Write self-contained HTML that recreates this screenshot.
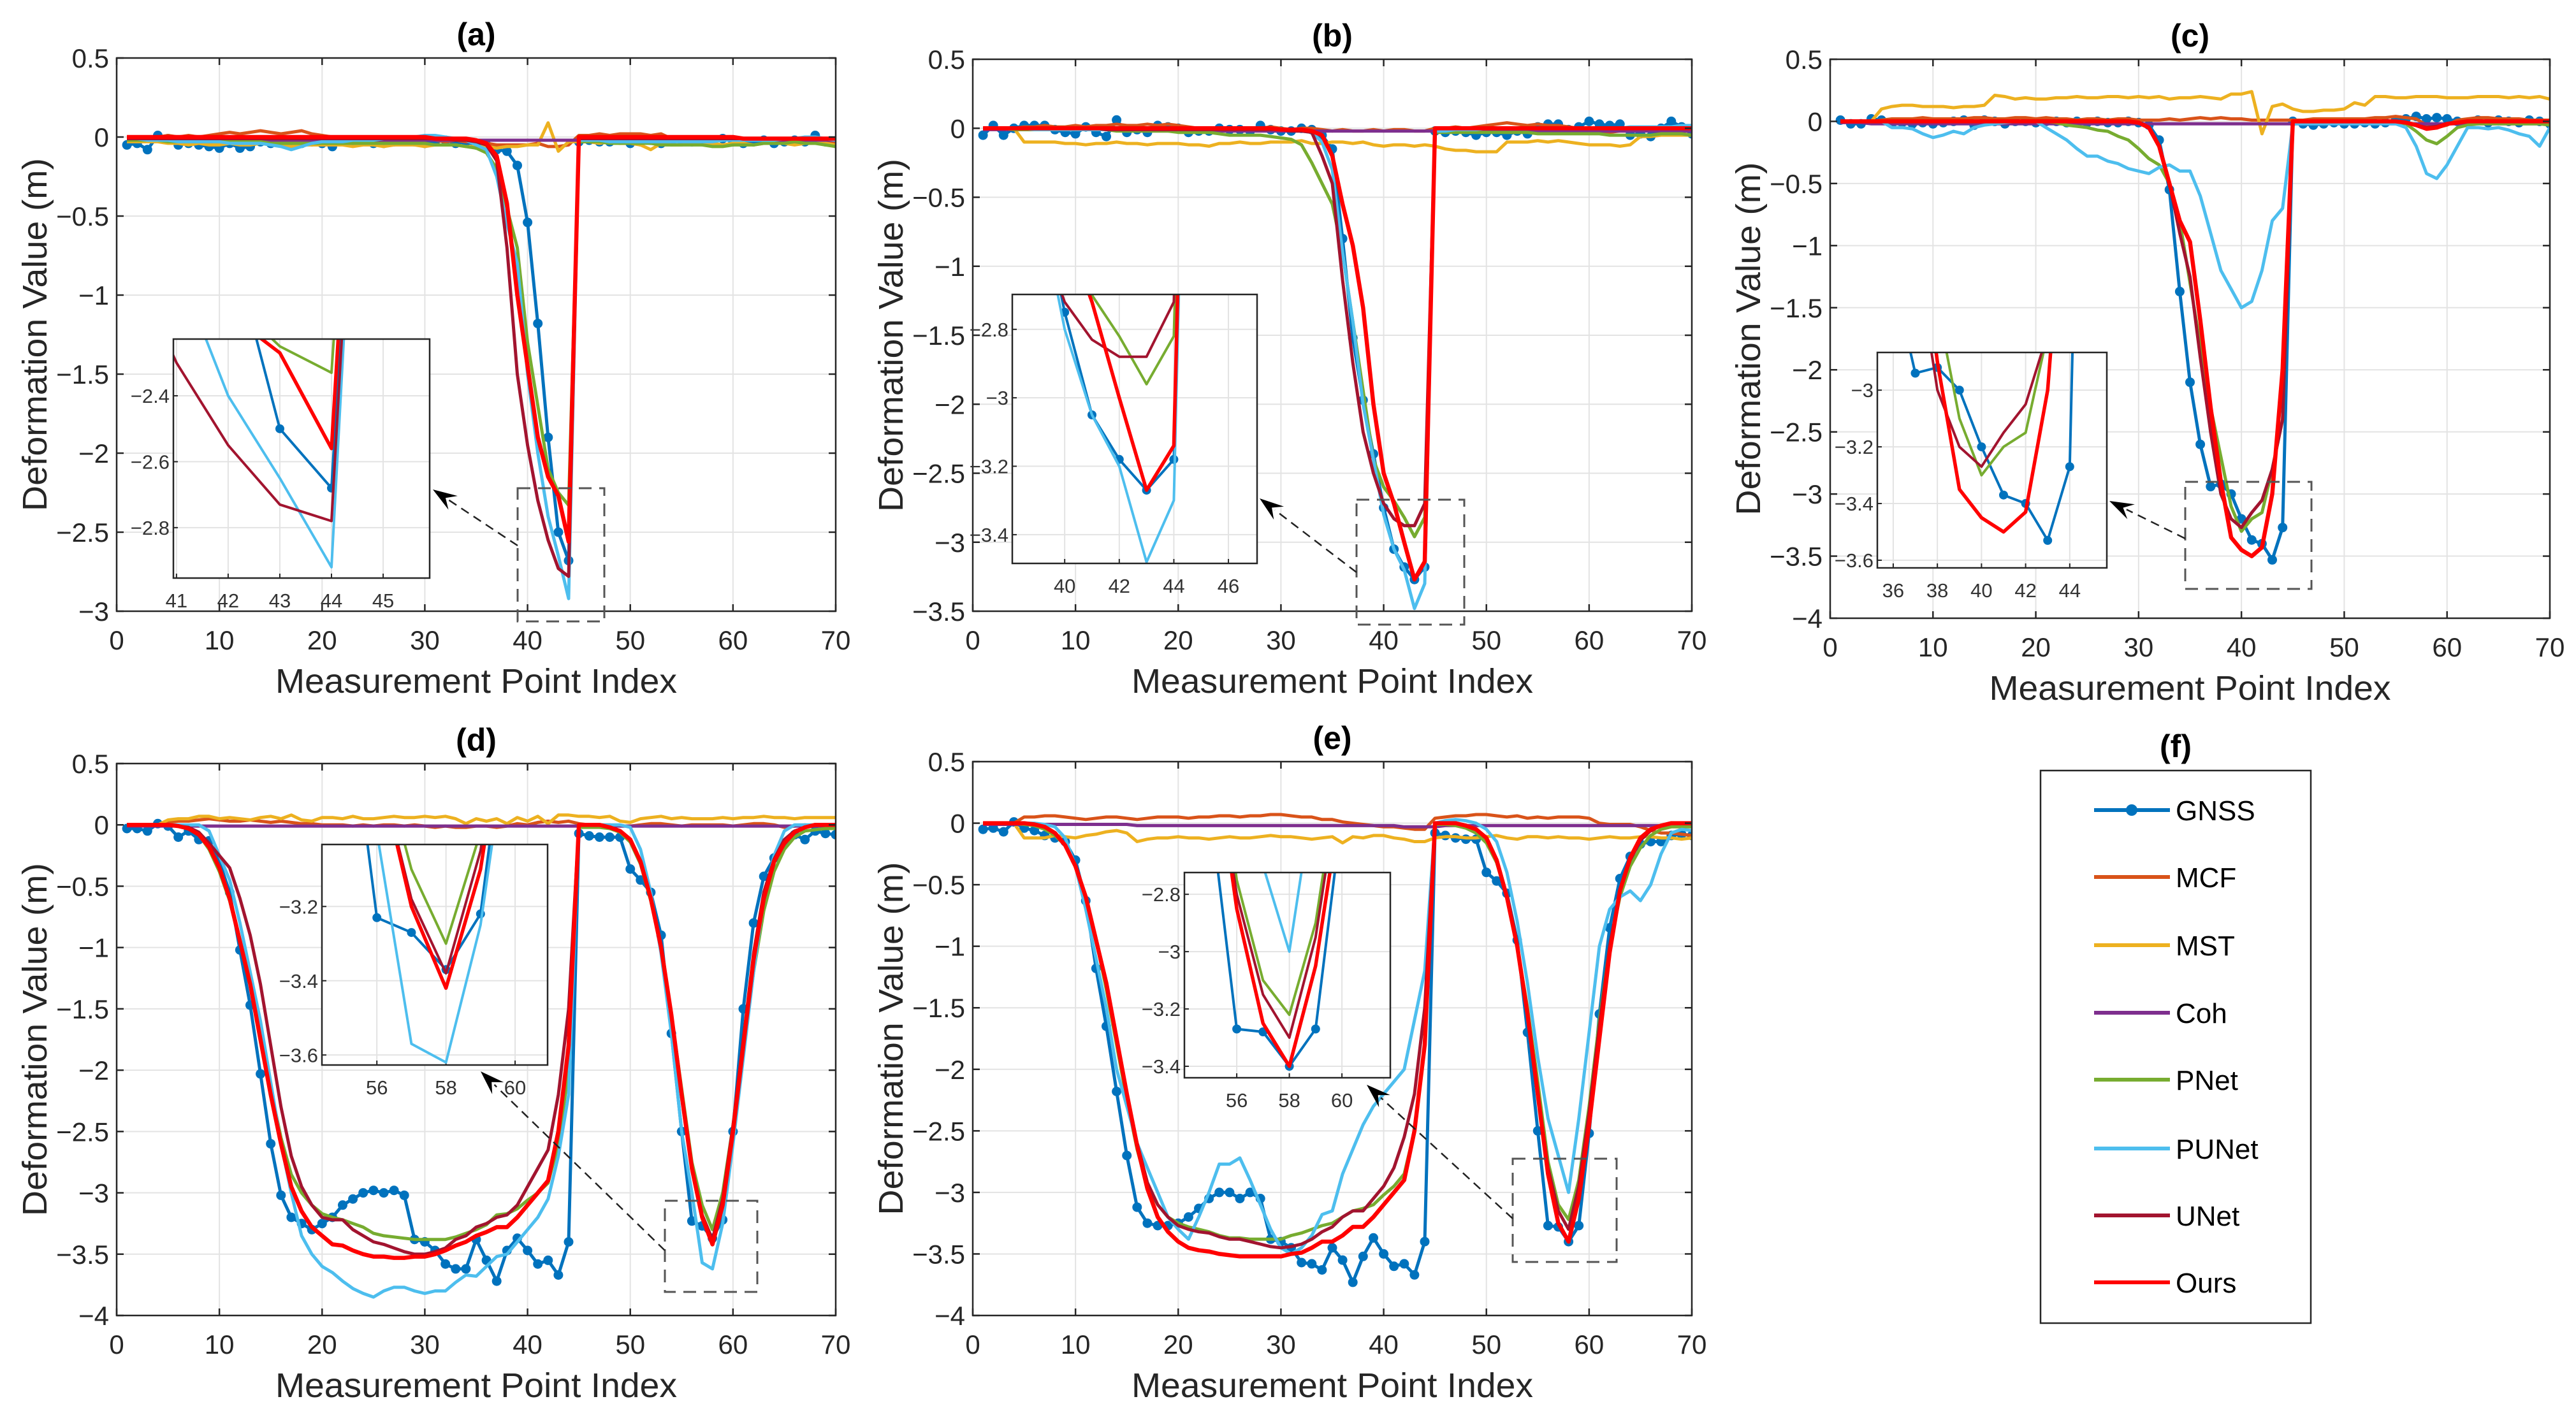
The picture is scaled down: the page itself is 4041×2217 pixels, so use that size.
<!DOCTYPE html>
<html><head><meta charset="utf-8">
<style>
html,body{margin:0;padding:0;background:#fff;}
svg{display:block;font-family:"Liberation Sans",Arial,sans-serif;}
</style></head>
<body>
<svg id="fig" width="4041" height="2217" viewBox="0 0 4041 2217" xmlns="http://www.w3.org/2000/svg">
<rect width="4041" height="2217" fill="#fff"/>
<defs id="defs"></defs>
</svg>
<script>
// ---------- data ----------
const xIndex=[1,2,3,4,5,6,7,8,9,10,11,12,13,14,15,16,17,18,19,20,21,22,23,24,25,26,27,28,29,30,31,32,33,34,35,36,37,38,39,40,41,42,43,44,45,46,47,48,49,50,51,52,53,54,55,56,57,58,59,60,61,62,63,64,65,66,67,68,69,70];
const seriesNames=["GNSS","MCF","MST","Coh","PNet","PUNet","UNet","Ours"];
const xTicks=[0,10,20,30,40,50,60,70];
const yTicksA=[0.5,0,-0.5,-1,-1.5,-2,-2.5,-3];
const yTicksB=[0.5,0,-0.5,-1,-1.5,-2,-2.5,-3,-3.5];
const yTicksC=[0.5,0,-0.5,-1,-1.5,-2,-2.5,-3,-3.5,-4];

// panel (a)
const aGNSS=[-0.05,-0.04,-0.08,0.01,-0.01,-0.05,-0.04,-0.05,-0.06,-0.07,-0.04,-0.07,-0.06,-0.03,-0.04,-0.03,-0.05,-0.04,-0.03,-0.04,-0.06,-0.02,-0.03,-0.02,-0.04,-0.04,-0.03,-0.02,-0.03,-0.04,-0.03,-0.02,-0.04,-0.03,-0.05,-0.05,-0.08,-0.09,-0.18,-0.54,-1.18,-1.9,-2.5,-2.68,-0.03,-0.02,-0.03,-0.03,-0.02,-0.04,-0.03,-0.02,-0.04,-0.03,-0.02,-0.03,-0.02,-0.03,-0.01,-0.03,-0.04,-0.03,-0.02,-0.04,-0.03,-0.02,-0.03,0.01,-0.03,-0.04];
const aMCF=[0,0,0,0,0.01,0,0.01,0,0.01,0.02,0.03,0.02,0.03,0.04,0.03,0.02,0.03,0.04,0.02,0.01,0,-0.01,-0.01,-0.02,-0.01,-0.02,-0.01,-0.02,-0.02,-0.02,-0.02,-0.03,-0.02,-0.03,-0.03,-0.04,-0.05,-0.05,-0.05,-0.05,-0.04,-0.06,-0.06,-0.05,0.01,0.01,0.02,0.01,0.02,0.02,0.02,0.01,0.02,-0.01,-0.01,-0.02,-0.01,-0.02,-0.02,-0.02,-0.02,-0.01,-0.02,-0.02,-0.01,-0.01,-0.02,-0.02,-0.02,-0.03];
const aMST=[-0.03,-0.03,-0.03,-0.03,-0.04,-0.04,-0.05,-0.04,-0.05,-0.05,-0.04,-0.05,-0.05,-0.04,-0.05,-0.05,-0.06,-0.05,-0.05,-0.05,-0.05,-0.05,-0.06,-0.05,-0.05,-0.06,-0.05,-0.05,-0.05,-0.06,-0.05,-0.05,-0.05,-0.06,-0.06,-0.06,-0.07,-0.06,-0.06,-0.05,-0.05,0.09,-0.09,-0.03,-0.03,-0.03,-0.04,-0.03,-0.04,-0.04,-0.05,-0.08,-0.04,-0.05,-0.05,-0.04,-0.05,-0.04,-0.05,-0.04,-0.04,-0.05,-0.04,-0.04,-0.04,-0.05,-0.04,-0.04,-0.04,-0.05];
const aCoh=[-0.02,-0.02,-0.02,-0.02,-0.02,-0.02,-0.02,-0.02,-0.02,-0.02,-0.02,-0.02,-0.02,-0.02,-0.02,-0.02,-0.02,-0.02,-0.02,-0.02,-0.02,-0.02,-0.02,-0.02,-0.02,-0.02,-0.02,-0.02,-0.02,-0.02,-0.02,-0.02,-0.02,-0.02,-0.02,-0.02,-0.02,-0.02,-0.02,-0.02,-0.02,-0.02,-0.02,-0.02,-0.02,-0.02,-0.02,-0.02,-0.02,-0.02,-0.02,-0.02,-0.02,-0.02,-0.02,-0.02,-0.02,-0.02,-0.02,-0.02,-0.02,-0.02,-0.02,-0.02,-0.02,-0.02,-0.02,-0.02,-0.02,-0.02];
const aPNet=[-0.02,-0.02,-0.02,-0.02,-0.03,-0.03,-0.03,-0.03,-0.03,-0.03,-0.03,-0.03,-0.03,-0.03,-0.04,-0.04,-0.04,-0.04,-0.04,-0.04,-0.04,-0.04,-0.04,-0.04,-0.04,-0.04,-0.04,-0.04,-0.04,-0.04,-0.05,-0.05,-0.05,-0.06,-0.07,-0.1,-0.2,-0.45,-0.7,-1.3,-1.7,-2.1,-2.25,-2.33,-0.03,-0.03,-0.03,-0.04,-0.04,-0.04,-0.04,-0.04,-0.05,-0.05,-0.05,-0.05,-0.05,-0.06,-0.06,-0.05,-0.05,-0.05,-0.04,-0.04,-0.04,-0.03,-0.04,-0.04,-0.05,-0.06];
const aPUNet=[-0.01,-0.01,-0.02,-0.02,-0.02,-0.03,-0.03,-0.03,-0.03,-0.03,-0.04,-0.04,-0.04,-0.04,-0.05,-0.06,-0.08,-0.06,-0.04,-0.03,-0.03,-0.03,-0.02,-0.02,-0.02,-0.01,-0.01,0,0,0.01,0.01,0,-0.01,-0.02,-0.05,-0.08,-0.25,-0.55,-0.8,-1.5,-2.0,-2.4,-2.65,-2.92,-0.02,-0.02,-0.02,-0.03,-0.03,-0.03,-0.03,-0.03,-0.03,-0.03,-0.03,-0.03,-0.03,-0.03,-0.02,-0.02,-0.02,-0.02,-0.02,-0.02,-0.01,-0.01,0,0,-0.01,-0.02];
const aUNet=[-0.01,-0.01,-0.01,-0.01,-0.01,-0.01,-0.01,-0.01,-0.01,-0.01,-0.01,-0.01,-0.01,-0.01,-0.01,-0.01,-0.01,-0.01,-0.01,-0.01,-0.01,-0.01,-0.01,-0.01,-0.01,-0.01,-0.01,-0.01,-0.01,-0.01,-0.01,-0.01,-0.02,-0.02,-0.03,-0.05,-0.15,-0.7,-1.5,-1.95,-2.3,-2.55,-2.73,-2.78,-0.01,-0.01,-0.01,-0.01,-0.01,-0.01,-0.01,-0.01,-0.01,-0.01,-0.01,-0.01,-0.01,-0.01,-0.01,-0.01,-0.01,-0.01,-0.01,-0.01,-0.01,-0.01,-0.01,-0.01,-0.01,-0.01];
const aOurs=[0,0,0,0,0,0,0,0,0,0,0,0,0,0,0,0,0,0,0,0,0,0,0,0,0,0,0,0,0,0,-0.01,-0.01,-0.01,-0.01,-0.02,-0.04,-0.12,-0.42,-1.0,-1.45,-1.9,-2.15,-2.27,-2.56,0,0,0,0,0,0,0,0,0,0,0,0,0,0,0,0,-0.01,-0.01,-0.01,-0.01,-0.01,-0.01,-0.01,-0.01,-0.01,-0.01];

// panel (b)
const bGNSS=[-0.05,0.02,-0.05,0,0.02,0.02,0.02,-0.01,-0.03,-0.04,0.01,-0.03,-0.06,0.06,-0.03,-0.01,-0.03,0.02,0.01,0,-0.03,-0.02,-0.02,0,-0.01,-0.01,-0.02,0.02,-0.01,-0.02,-0.02,0,-0.01,-0.05,-0.15,-0.8,-1.52,-1.97,-2.36,-2.75,-3.05,-3.18,-3.27,-3.18,-0.02,-0.03,-0.02,-0.03,-0.05,-0.03,-0.03,-0.05,-0.02,-0.04,0.01,0.03,0.03,-0.01,0.01,0.05,0.03,0.02,0.03,-0.05,-0.04,-0.06,0,0.05,0.01,-0.04];
const bMCF=[0,0,0,0,0.01,0.01,0.02,0.01,0.01,0.02,0.01,0.02,0.02,0.03,0.02,0.02,0.03,0.02,0.03,0.02,0.01,0,0,0,0,-0.01,0,0,0.01,0,-0.01,0,0,-0.01,-0.02,-0.01,-0.02,-0.02,-0.01,-0.02,-0.01,-0.01,-0.02,-0.02,0,0,0.01,0,0.01,0.02,0.03,0.04,0.03,0.02,0.03,0.02,0.02,0.01,0,-0.01,-0.02,-0.03,-0.02,-0.02,-0.01,-0.01,-0.02,-0.03,-0.04,-0.05];
const bMST=[0,0,0,0,-0.1,-0.1,-0.1,-0.1,-0.11,-0.11,-0.12,-0.11,-0.11,-0.1,-0.11,-0.11,-0.12,-0.11,-0.11,-0.11,-0.12,-0.12,-0.13,-0.11,-0.11,-0.1,-0.11,-0.11,-0.1,-0.1,-0.1,-0.09,-0.11,-0.11,-0.1,-0.1,-0.11,-0.1,-0.12,-0.13,-0.12,-0.12,-0.13,-0.12,-0.13,-0.15,-0.16,-0.16,-0.17,-0.17,-0.17,-0.1,-0.1,-0.1,-0.09,-0.1,-0.09,-0.1,-0.11,-0.12,-0.12,-0.12,-0.13,-0.12,-0.06,-0.06,-0.05,-0.05,-0.05,-0.05];
const bCoh=[-0.01,-0.01,-0.01,-0.01,-0.01,-0.01,-0.01,-0.01,-0.01,-0.01,-0.01,-0.01,-0.01,-0.01,-0.01,-0.02,-0.02,-0.02,-0.02,-0.02,-0.02,-0.02,-0.02,-0.02,-0.02,-0.02,-0.02,-0.02,-0.02,-0.02,-0.02,-0.02,-0.02,-0.02,-0.02,-0.02,-0.02,-0.02,-0.02,-0.02,-0.02,-0.02,-0.02,-0.02,-0.02,-0.02,-0.02,-0.02,-0.02,-0.02,-0.02,-0.02,-0.02,-0.02,-0.02,-0.02,-0.02,-0.02,-0.02,-0.02,-0.02,-0.02,-0.02,-0.02,-0.02,-0.02,-0.02,-0.02,-0.02,-0.02];
const bPNet=[0,0,0,-0.01,-0.01,-0.01,-0.01,-0.01,-0.01,-0.01,-0.01,-0.01,-0.01,-0.02,-0.02,-0.02,-0.02,-0.02,-0.02,-0.03,-0.03,-0.03,-0.03,-0.04,-0.05,-0.05,-0.05,-0.05,-0.06,-0.07,-0.08,-0.12,-0.25,-0.4,-0.55,-0.9,-1.4,-1.9,-2.4,-2.6,-2.7,-2.82,-2.96,-2.82,-0.03,-0.03,-0.03,-0.03,-0.03,-0.03,-0.03,-0.03,-0.03,-0.03,-0.04,-0.04,-0.04,-0.04,-0.04,-0.04,-0.04,-0.05,-0.05,-0.05,-0.05,-0.05,-0.04,-0.04,-0.04,-0.05];
const bPUNet=[0,0,0,0,0,-0.01,-0.01,-0.01,-0.01,-0.01,-0.01,-0.01,-0.01,-0.01,-0.01,-0.01,-0.01,-0.01,-0.01,-0.01,-0.01,-0.01,-0.01,-0.01,-0.01,-0.01,-0.01,-0.01,-0.01,-0.01,-0.01,-0.02,-0.03,-0.1,-0.3,-0.9,-1.4,-2.0,-2.4,-2.8,-3.05,-3.2,-3.48,-3.3,-0.02,-0.02,-0.01,-0.01,-0.01,0,0,0,0,0,0,0,0,0,0,0,0,0,0,0.01,0.01,0.01,0.01,0.01,0.02,0.02];
const bUNet=[0,0,0,0,0,0,0,0,0,0,0,0,-0.01,-0.01,-0.01,-0.01,-0.01,-0.01,-0.01,-0.01,-0.01,-0.01,-0.01,-0.01,-0.01,-0.01,-0.01,-0.01,-0.01,-0.01,-0.02,-0.02,-0.03,-0.2,-0.4,-1.1,-1.7,-2.2,-2.5,-2.72,-2.83,-2.88,-2.88,-2.72,0,0,0,0,0,0,0,0,0,0,0,0,0,0,0,0,0,0,0,0,0,0,0,0,0,0];
const bOurs=[0,0,0,0,0,0,0,0,0,0,0,0,0,0,0,0,0,0,0,0,0,0,0,0,0,0,0,0,0,-0.01,-0.01,-0.01,-0.02,-0.05,-0.2,-0.55,-0.85,-1.3,-2.0,-2.5,-2.72,-3.0,-3.27,-3.14,0,0,0,0,0,0,0,0,0,0,0,0,0,0,0,0,0,0,0,0,0,0,0,0,0,0];

// panel (c)
const cGNSS=[0.01,-0.02,-0.02,0.02,0.01,-0.02,-0.01,-0.02,-0.01,-0.02,-0.01,0,0.01,-0.03,0.01,0,-0.02,0,0,-0.01,0,0,-0.01,0,-0.01,0,-0.01,-0.01,0,-0.01,-0.03,-0.15,-0.55,-1.37,-2.1,-2.6,-2.94,-2.92,-3.0,-3.2,-3.37,-3.4,-3.53,-3.27,0,-0.02,-0.03,-0.02,-0.01,-0.02,-0.02,-0.01,-0.02,-0.01,0.01,0.02,0.04,0.02,0.03,0.02,0,-0.01,0.01,-0.01,0.01,0,-0.01,0.01,0,-0.02];
const cMCF=[0,0,0,0,0.01,0.02,0.02,0.02,0.03,0.02,0.02,0.02,0.02,0.03,0.03,0.02,0.02,0.03,0.03,0.02,0.03,0.02,0.02,0.01,0.02,0.02,0.01,0.02,0.02,0.01,0.01,0.01,0.02,0.01,0.02,0.03,0.02,0.03,0.02,0.02,0.01,0.01,0.01,0.01,0.01,0.01,0.02,0.02,0.02,0.02,0.02,0.02,0.03,0.03,0.04,0.03,0.02,-0.03,-0.05,-0.03,0.01,0.02,0.03,0.03,0.02,0.02,0.02,0.01,0.01,0.01];
const cMST=[0,0,0,0,0.1,0.12,0.13,0.13,0.12,0.12,0.12,0.11,0.12,0.12,0.13,0.21,0.2,0.18,0.19,0.18,0.18,0.19,0.19,0.2,0.19,0.19,0.2,0.2,0.19,0.2,0.19,0.2,0.18,0.19,0.19,0.2,0.19,0.18,0.22,0.22,0.24,-0.1,0.12,0.14,0.1,0.08,0.08,0.09,0.09,0.1,0.15,0.13,0.2,0.2,0.19,0.19,0.2,0.2,0.2,0.19,0.19,0.19,0.2,0.2,0.2,0.19,0.2,0.19,0.2,0.18];
const cCoh=[-0.01,-0.01,-0.01,-0.02,-0.02,-0.02,-0.02,-0.02,-0.02,-0.02,-0.02,-0.02,-0.02,-0.02,-0.02,-0.02,-0.02,-0.02,-0.02,-0.02,-0.02,-0.02,-0.02,-0.02,-0.02,-0.02,-0.02,-0.02,-0.02,-0.02,-0.02,-0.02,-0.02,-0.02,-0.02,-0.02,-0.02,-0.02,-0.02,-0.02,-0.02,-0.02,-0.02,-0.02,-0.02,-0.02,-0.02,-0.02,-0.02,-0.02,-0.02,-0.02,-0.02,-0.02,-0.02,-0.02,-0.02,-0.02,-0.02,-0.02,-0.02,-0.02,-0.02,-0.02,-0.02,-0.02,-0.02,-0.02,-0.02,-0.02];
const cPNet=[0,0,0,0,0,0,0,0,0,0,0,0,0,0,0,0,0,0,0,0,0,-0.01,-0.03,-0.04,-0.05,-0.07,-0.08,-0.12,-0.15,-0.22,-0.3,-0.35,-0.5,-0.8,-1.3,-1.8,-2.3,-2.7,-3.1,-3.3,-3.2,-3.15,-2.8,-2.4,0,0,0,0,0,0,0,0,0,0,-0.01,-0.02,-0.08,-0.15,-0.18,-0.12,-0.05,-0.03,-0.02,-0.02,-0.02,-0.02,-0.02,-0.02,-0.02,-0.03];
const cPUNet=[0,0,0,0,0,-0.05,-0.05,-0.06,-0.1,-0.13,-0.11,-0.08,-0.1,-0.05,-0.03,-0.02,-0.01,0,0,0,-0.05,-0.1,-0.15,-0.22,-0.28,-0.28,-0.32,-0.34,-0.38,-0.4,-0.42,-0.37,-0.35,-0.4,-0.4,-0.6,-0.9,-1.2,-1.35,-1.5,-1.45,-1.2,-0.8,-0.7,-0.02,-0.02,-0.02,-0.02,-0.02,-0.02,-0.02,-0.02,-0.02,-0.02,-0.02,-0.05,-0.2,-0.42,-0.46,-0.35,-0.2,-0.05,-0.05,-0.06,-0.05,-0.07,-0.1,-0.12,-0.2,-0.05];
const cUNet=[0,0,0,0,0,0,0,0,0,0,0,0,0,0,0,0,0,0,0,0,0,0,0,0,0,0,0,0,0,-0.01,-0.05,-0.2,-0.5,-0.9,-1.25,-1.9,-2.5,-3.0,-3.2,-3.27,-3.15,-3.05,-2.8,-2.4,0,0,0,0,0,0,0,0,0,0,0,-0.01,-0.03,-0.05,-0.04,-0.02,-0.01,0,0,0,0,0,0,0,0,0];
const cOurs=[0,0,0,0,0,0,0,0,0,0,0,0,0,0,0,0,0,0,0,0,0,0,0,0,0,0,0,0,0,-0.01,-0.05,-0.2,-0.5,-0.8,-0.97,-1.6,-2.3,-2.9,-3.35,-3.45,-3.5,-3.43,-3.0,-2.0,0,0,0,0,0,0,0,0,0,0,0,-0.01,-0.03,-0.06,-0.05,-0.02,-0.01,0,0,0,0,0,0,0,0,0];

// panel (d)
const dGNSS=[-0.03,-0.03,-0.05,0.01,-0.01,-0.1,-0.05,-0.12,-0.13,-0.3,-0.55,-1.02,-1.47,-2.03,-2.6,-3.02,-3.2,-3.25,-3.3,-3.25,-3.2,-3.1,-3.05,-3.0,-2.98,-3.0,-2.98,-3.02,-3.38,-3.4,-3.47,-3.58,-3.62,-3.62,-3.38,-3.55,-3.72,-3.47,-3.37,-3.47,-3.58,-3.55,-3.67,-3.4,-0.07,-0.09,-0.1,-0.1,-0.1,-0.36,-0.45,-0.55,-0.9,-1.7,-2.5,-3.23,-3.27,-3.37,-3.22,-2.5,-1.5,-0.8,-0.42,-0.27,-0.15,-0.08,-0.12,-0.05,-0.07,-0.08];
const dMCF=[0,0,0,0,0.02,0.03,0.03,0.04,0.05,0.04,0.03,0.03,0.04,0.03,0.02,0.03,0.02,0.01,0.01,0,0,0,-0.01,0,-0.01,0,0,-0.01,0,-0.01,-0.02,-0.01,-0.02,-0.02,-0.01,-0.01,-0.02,-0.01,0.01,0,0.02,0.03,0.02,0.03,0.01,0,0,0,-0.01,-0.01,0,0.01,0.01,0,-0.01,0,0,0,0,-0.01,0,0.01,0.01,0,-0.02,-0.01,0,-0.01,0,0];
const dMST=[0,0,0,0,0.04,0.05,0.05,0.07,0.07,0.05,0.06,0.05,0.04,0.06,0.07,0.05,0.08,0.04,0.03,0.06,0.06,0.05,0.07,0.05,0.05,0.06,0.07,0.06,0.06,0.07,0.06,0.07,0.05,0.01,0.05,0.03,0.05,0.01,0.06,0.03,0.07,0.01,0.08,0.08,0.07,0.07,0.06,0.07,0.03,0.02,0.05,0.06,0.07,0.05,0.06,0.05,0.05,0.05,0.06,0.05,0.06,0.06,0.07,0.06,0.06,0.05,0.06,0.06,0.06,0.06];
const dCoh=[-0.01,-0.01,-0.01,-0.01,-0.01,-0.01,-0.01,-0.01,-0.01,-0.01,-0.01,-0.01,-0.01,-0.01,-0.01,-0.01,-0.01,-0.01,-0.01,-0.01,-0.01,-0.01,-0.01,-0.01,-0.01,-0.01,-0.01,-0.01,-0.01,-0.01,-0.01,-0.01,-0.01,-0.01,-0.01,-0.01,-0.01,-0.01,-0.01,-0.01,-0.01,-0.01,-0.01,-0.01,-0.01,-0.01,-0.01,-0.01,-0.01,-0.01,-0.01,-0.01,-0.01,-0.01,-0.01,-0.01,-0.01,-0.01,-0.01,-0.01,-0.01,-0.01,-0.01,-0.01,-0.01,-0.01,-0.01,-0.01,-0.01,-0.01];
const dPNet=[0,0,0,0,0,-0.01,-0.03,-0.08,-0.2,-0.38,-0.62,-0.95,-1.3,-1.72,-2.15,-2.55,-2.85,-3.0,-3.1,-3.17,-3.2,-3.22,-3.25,-3.28,-3.33,-3.35,-3.36,-3.37,-3.38,-3.38,-3.38,-3.38,-3.36,-3.33,-3.3,-3.26,-3.18,-3.17,-3.13,-3.06,-3.0,-2.92,-2.6,-2.0,-0.02,-0.02,-0.02,-0.03,-0.06,-0.14,-0.32,-0.62,-1.0,-1.55,-2.15,-2.75,-3.1,-3.3,-3.0,-2.45,-1.85,-1.2,-0.7,-0.38,-0.2,-0.1,-0.05,-0.04,-0.03,-0.03];
const dPUNet=[0,0,0,0,0,0,0,0,-0.05,-0.25,-0.45,-0.8,-1.2,-1.6,-2.1,-2.6,-3.0,-3.35,-3.5,-3.6,-3.65,-3.72,-3.78,-3.82,-3.85,-3.8,-3.77,-3.77,-3.8,-3.82,-3.8,-3.8,-3.73,-3.67,-3.68,-3.6,-3.52,-3.5,-3.4,-3.3,-3.2,-3.05,-2.7,-2.2,0,0,0,0,0,-0.02,-0.2,-0.55,-1.05,-1.7,-2.5,-3.0,-3.57,-3.62,-3.25,-2.6,-1.9,-1.2,-0.6,-0.25,-0.05,0,0,0,0,0];
const dUNet=[0,0,0,0,0,-0.01,-0.02,-0.06,-0.15,-0.25,-0.35,-0.6,-0.9,-1.3,-1.8,-2.3,-2.7,-2.95,-3.1,-3.2,-3.22,-3.22,-3.3,-3.35,-3.4,-3.42,-3.45,-3.48,-3.5,-3.5,-3.48,-3.45,-3.38,-3.35,-3.28,-3.25,-3.2,-3.18,-3.1,-2.95,-2.8,-2.65,-2.2,-1.5,0,0,0,-0.02,-0.05,-0.12,-0.3,-0.6,-1.0,-1.55,-2.2,-2.8,-3.18,-3.38,-3.05,-2.45,-1.75,-1.05,-0.55,-0.28,-0.12,-0.05,-0.02,0,0,0];
const dOurs=[0,0,0,0,0,-0.01,-0.03,-0.08,-0.18,-0.35,-0.6,-0.95,-1.3,-1.75,-2.2,-2.6,-2.95,-3.15,-3.28,-3.35,-3.42,-3.43,-3.47,-3.5,-3.52,-3.52,-3.53,-3.53,-3.52,-3.52,-3.5,-3.47,-3.43,-3.4,-3.35,-3.32,-3.28,-3.28,-3.2,-3.1,-3.0,-2.9,-2.5,-1.8,0,0,0,-0.02,-0.05,-0.12,-0.3,-0.6,-1.0,-1.55,-2.2,-2.8,-3.2,-3.42,-3.1,-2.5,-1.8,-1.1,-0.6,-0.3,-0.15,-0.06,-0.02,0,0,0];

// panel (e)
const eGNSS=[-0.05,-0.04,-0.07,0.01,-0.04,-0.06,-0.1,-0.12,-0.15,-0.3,-0.63,-1.18,-1.65,-2.18,-2.7,-3.12,-3.25,-3.27,-3.27,-3.25,-3.2,-3.13,-3.05,-3.0,-3.0,-3.05,-3.0,-3.05,-3.38,-3.4,-3.45,-3.57,-3.58,-3.63,-3.45,-3.55,-3.73,-3.52,-3.37,-3.5,-3.6,-3.58,-3.67,-3.4,-0.08,-0.1,-0.12,-0.13,-0.13,-0.4,-0.47,-0.57,-0.95,-1.7,-2.5,-3.27,-3.28,-3.4,-3.27,-2.52,-1.55,-0.85,-0.45,-0.27,-0.17,-0.15,-0.15,-0.1,-0.09,-0.1];
const eMCF=[0,0,0,0,0.05,0.05,0.06,0.06,0.05,0.04,0.03,0.04,0.05,0.05,0.04,0.03,0.04,0.05,0.05,0.05,0.04,0.05,0.05,0.06,0.06,0.05,0.06,0.06,0.07,0.07,0.06,0.05,0.05,0.03,0.03,0.01,0,-0.01,-0.02,-0.03,-0.03,-0.04,-0.05,-0.05,0.04,0.05,0.06,0.06,0.07,0.07,0.06,0.05,0.06,0.04,0.05,0.04,0.05,0.05,0.05,0.04,0,-0.01,-0.01,-0.01,-0.03,-0.06,-0.08,-0.08,-0.09,-0.1];
const eMST=[0,0,0,0,-0.12,-0.12,-0.12,-0.1,-0.11,-0.12,-0.1,-0.09,-0.07,-0.06,-0.08,-0.15,-0.13,-0.12,-0.12,-0.11,-0.12,-0.12,-0.13,-0.12,-0.11,-0.12,-0.12,-0.11,-0.1,-0.11,-0.11,-0.12,-0.13,-0.12,-0.11,-0.16,-0.11,-0.12,-0.1,-0.1,-0.12,-0.13,-0.15,-0.15,-0.12,-0.11,-0.11,-0.12,-0.12,-0.11,-0.1,-0.12,-0.13,-0.11,-0.11,-0.12,-0.11,-0.12,-0.12,-0.13,-0.12,-0.11,-0.12,-0.12,-0.11,-0.11,-0.12,-0.12,-0.13,-0.12];
const eCoh=[-0.01,-0.01,-0.01,-0.01,-0.01,-0.01,-0.01,-0.01,-0.01,-0.01,-0.01,-0.01,-0.01,-0.01,-0.01,-0.02,-0.02,-0.02,-0.02,-0.02,-0.02,-0.02,-0.02,-0.02,-0.02,-0.02,-0.02,-0.02,-0.02,-0.02,-0.02,-0.02,-0.02,-0.02,-0.02,-0.02,-0.02,-0.02,-0.02,-0.02,-0.02,-0.03,-0.03,-0.03,-0.03,-0.02,-0.02,-0.02,-0.02,-0.02,-0.02,-0.02,-0.02,-0.02,-0.02,-0.02,-0.02,-0.02,-0.02,-0.02,-0.02,-0.02,-0.02,-0.02,-0.02,-0.02,-0.02,-0.02,-0.02,-0.02];
const ePNet=[0,0,0,0,-0.01,-0.02,-0.05,-0.1,-0.18,-0.35,-0.6,-0.95,-1.35,-1.8,-2.25,-2.65,-2.95,-3.1,-3.2,-3.25,-3.28,-3.3,-3.32,-3.35,-3.37,-3.37,-3.38,-3.38,-3.38,-3.38,-3.35,-3.33,-3.3,-3.27,-3.25,-3.2,-3.15,-3.13,-3.1,-3.02,-2.95,-2.85,-2.5,-1.8,-0.01,-0.01,-0.02,-0.04,-0.08,-0.16,-0.32,-0.6,-1.0,-1.5,-2.1,-2.75,-3.1,-3.22,-2.9,-2.3,-1.6,-1.0,-0.6,-0.35,-0.2,-0.1,-0.05,-0.03,-0.03,-0.03];
const ePUNet=[0,0,0,0,0,0,-0.01,-0.03,-0.12,-0.35,-0.7,-1.1,-1.5,-2.0,-2.3,-2.6,-2.8,-3.0,-3.2,-3.3,-3.38,-3.2,-3.0,-2.77,-2.77,-2.72,-2.9,-3.1,-3.3,-3.45,-3.5,-3.45,-3.35,-3.18,-3.15,-2.85,-2.65,-2.45,-2.3,-2.2,-2.1,-2.0,-1.6,-1.2,0,0.02,0.03,0.02,0,-0.05,-0.15,-0.4,-0.8,-1.3,-1.9,-2.4,-2.7,-3.0,-2.4,-1.7,-1.0,-0.7,-0.6,-0.55,-0.63,-0.5,-0.25,-0.08,-0.05,-0.06];
const eUNet=[0,0,0,0,0,-0.01,-0.03,-0.08,-0.18,-0.35,-0.6,-0.95,-1.3,-1.75,-2.2,-2.6,-2.92,-3.1,-3.2,-3.27,-3.3,-3.32,-3.33,-3.36,-3.38,-3.38,-3.4,-3.42,-3.44,-3.45,-3.44,-3.42,-3.38,-3.32,-3.28,-3.2,-3.15,-3.15,-3.05,-2.95,-2.8,-2.55,-2.2,-1.5,0,0,0,-0.02,-0.05,-0.12,-0.3,-0.6,-1.0,-1.55,-2.2,-2.8,-3.15,-3.3,-2.95,-2.35,-1.65,-1.0,-0.55,-0.3,-0.14,-0.06,-0.02,0,0,0];
const eOurs=[0,0,0,0,0,-0.01,-0.03,-0.08,-0.18,-0.35,-0.6,-0.95,-1.3,-1.75,-2.2,-2.62,-2.97,-3.2,-3.32,-3.4,-3.45,-3.47,-3.48,-3.5,-3.51,-3.52,-3.52,-3.52,-3.52,-3.52,-3.5,-3.49,-3.45,-3.4,-3.4,-3.35,-3.28,-3.28,-3.2,-3.1,-3.0,-2.9,-2.5,-1.8,0,0,0,-0.02,-0.05,-0.12,-0.3,-0.6,-1.0,-1.55,-2.2,-2.85,-3.25,-3.4,-3.05,-2.45,-1.75,-1.05,-0.55,-0.28,-0.12,-0.05,-0.02,0,0,0];

const insetXTicksA=[41,42,43,44,45], insetYTicksA=[-2.4,-2.6,-2.8];
const insetXTicksB=[40,42,44,46], insetYTicksB=[-2.8,-3,-3.2,-3.4];
const insetXTicksC=[36,38,40,42,44], insetYTicksC=[-3,-3.2,-3.4,-3.6];
const insetXTicksD=[56,58,60], insetYTicksD=[-3.2,-3.4,-3.6];
const insetXTicksE=[56,58,60], insetYTicksE=[-2.8,-3,-3.2,-3.4];

// ---------- drawing ----------
const colors=["#0072BD","#D95319","#EDB120","#7E2F8E","#77AC30","#4DBEEE","#A2142F","#FF0000"];
const NS="http://www.w3.org/2000/svg";
const svg=document.getElementById('fig');
const defs=document.getElementById('defs');
function mk(tag,attrs,parent){const e=document.createElementNS(NS,tag);for(const k in attrs)e.setAttribute(k,attrs[k]);(parent||svg).appendChild(e);return e;}
function fmt(v){return (v<0?"\u2212":"")+String(Math.abs(v));}

const panels=[
 {id:"a",L:183,R:1311,T:91,B:959,ymax:0.5,ymin:-3,yt:yTicksA,data:[aGNSS,aMCF,aMST,aCoh,aPNet,aPUNet,aUNet,aOurs],
  inset:{L:272,R:674,T:532,B:907,x0:40.94,x1:45.9,y0:-2.228,y1:-2.953,xt:insetXTicksA,yt:insetYTicksA},
  rect:[812,766,948,975],arrow:[812,856,679,768]},
 {id:"b",L:1526,R:2654,T:93,B:959,ymax:0.5,ymin:-3.5,yt:yTicksB,data:[bGNSS,bMCF,bMST,bCoh,bPNet,bPUNet,bUNet,bOurs],
  inset:{L:1588,R:1972,T:462,B:884,x0:38.08,x1:47.05,y0:-2.698,y1:-3.484,xt:insetXTicksB,yt:insetYTicksB},
  rect:[2128,784,2297,980],arrow:[2128,898,1976,782]},
 {id:"c",L:2871,R:4000,T:93,B:970,ymax:0.5,ymin:-4,yt:yTicksC,data:[cGNSS,cMCF,cMST,cCoh,cPNet,cPUNet,cUNet,cOurs],
  inset:{L:2945,R:3305,T:553,B:891,x0:35.28,x1:45.68,y0:-2.867,y1:-3.627,xt:insetXTicksC,yt:insetYTicksC},
  rect:[3428,756,3626,924],arrow:[3428,845,3309,786]},
 {id:"d",L:183,R:1311,T:1198,B:2064,ymax:0.5,ymin:-4,yt:yTicksC,data:[dGNSS,dMCF,dMST,dCoh,dPNet,dPUNet,dUNet,dOurs],
  inset:{L:505,R:859,T:1325,B:1671,x0:54.41,x1:60.94,y0:-3.033,y1:-3.627,xt:insetXTicksD,yt:insetYTicksD},
  rect:[1043,1884,1188,2027],arrow:[1043,1962,754,1681]},
 {id:"e",L:1526,R:2654,T:1195,B:2064,ymax:0.5,ymin:-4,yt:yTicksC,data:[eGNSS,eMCF,eMST,eCoh,ePNet,ePUNet,eUNet,eOurs],
  inset:{L:1858,R:2181,T:1369,B:1691,x0:54.01,x1:61.84,y0:-2.724,y1:-3.44,xt:insetXTicksE,yt:insetYTicksE},
  rect:[2373,1818,2536,1980],arrow:[2373,1912,2144,1702]}
];

function drawLines(g,xs,ys,data,clipId,lw,mr){
  data.forEach((arr,si)=>{
    const pts=arr.map((v,i)=>xs(xIndex[i]).toFixed(1)+","+ys(v).toFixed(1)).join(" ");
    const pl=mk("polyline",{points:pts,fill:"none",stroke:colors[si],"stroke-width":si===7?lw+1.5:lw,"stroke-linejoin":"round","clip-path":"url(#"+clipId+")"},g);
    
    
    if(si===0){
      const mg=mk("g",{"clip-path":"url(#"+clipId+")"},g);
      arr.forEach((v,i)=>{
        const c=mk("circle",{cx:xs(xIndex[i]).toFixed(1),cy:ys(v).toFixed(1),r:mr,fill:colors[0]},mg);
        
        
      });
    }
  });
}

panels.forEach(p=>{
  const g=mk("g",{});
  
  
  const xs=v=>p.L+(v-0)/70*(p.R-p.L);
  const ys=v=>p.T+(p.ymax-v)/(p.ymax-p.ymin)*(p.B-p.T);
  const cp=mk("clipPath",{id:"clip"+p.id},defs);
  mk("rect",{x:p.L,y:p.T,width:p.R-p.L,height:p.B-p.T},cp);
  // grid
  xTicks.forEach(t=>{if(t>0&&t<70){const l=mk("line",{x1:xs(t),x2:xs(t),y1:p.T,y2:p.B,stroke:"#e3e3e3","stroke-width":2},g);}});
  p.yt.forEach(t=>{if(t<p.ymax&&t>p.ymin){const l=mk("line",{x1:p.L,x2:p.R,y1:ys(t),y2:ys(t),stroke:"#e3e3e3","stroke-width":2},g);}});
  drawLines(g,xs,ys,p.data,"clip"+p.id,5,7.5);
  // axes box
  const box=mk("rect",{x:p.L,y:p.T,width:p.R-p.L,height:p.B-p.T,fill:"none",stroke:"#262626","stroke-width":2.5},g);
  
  xTicks.forEach(t=>{
    mk("line",{x1:xs(t),x2:xs(t),y1:p.B,y2:p.B-11,stroke:"#262626","stroke-width":2.5},g);
    mk("line",{x1:xs(t),x2:xs(t),y1:p.T,y2:p.T+11,stroke:"#262626","stroke-width":2.5},g);
    const tx=mk("text",{x:xs(t),y:p.B+60,"font-size":42,"text-anchor":"middle",fill:"#262626"},g);
    tx.textContent=String(t);
    
  });
  p.yt.forEach(t=>{
    mk("line",{x1:p.L,x2:p.L+11,y1:ys(t),y2:ys(t),stroke:"#262626","stroke-width":2.5},g);
    mk("line",{x1:p.R,x2:p.R-11,y1:ys(t),y2:ys(t),stroke:"#262626","stroke-width":2.5},g);
    const ty=mk("text",{x:p.L-12,y:ys(t)+15,"font-size":42,"text-anchor":"end",fill:"#262626"},g);
    ty.textContent=fmt(t);
    
  });
  const xl=mk("text",{x:(p.L+p.R)/2,y:p.B+128,"font-size":54,"text-anchor":"middle",fill:"#262626",textLength:630,lengthAdjust:"spacingAndGlyphs"},g);
  xl.textContent="Measurement Point Index";
  
  const cy=(p.T+p.B)/2, cx=p.L-110;
  const yl=mk("text",{x:cx,y:cy,"font-size":54,"text-anchor":"middle",fill:"#262626",transform:"rotate(-90 "+cx+" "+cy+")",textLength:554,lengthAdjust:"spacingAndGlyphs"},g);
  yl.textContent="Deformation Value (m)";
  
  const tt=mk("text",{x:(p.L+p.R)/2,y:p.T-20,"font-size":50,"font-weight":"bold","text-anchor":"middle",fill:"#000"},g);
  tt.textContent="("+p.id+")";
  

  // zoom rect
  const r=p.rect;
  const zr=mk("rect",{x:r[0],y:r[1],width:r[2]-r[0],height:r[3]-r[1],fill:"none",stroke:"#555","stroke-width":3,"stroke-dasharray":"20 12"},g);
  
  const a=p.arrow;
  const ang=Math.atan2(a[3]-a[1],a[2]-a[0]);
  const hx=a[2]-30*Math.cos(ang), hy=a[3]-30*Math.sin(ang);
  const al=mk("line",{x1:a[0],y1:a[1],x2:hx,y2:hy,stroke:"#222","stroke-width":2.5,"stroke-dasharray":"14 9"},g);
  
  const px=-Math.sin(ang),py=Math.cos(ang);
  mk("polygon",{points:[a[2],a[3],hx-8*Math.cos(ang)+13*px,hy-8*Math.sin(ang)+13*py,hx+6*Math.cos(ang),hy+6*Math.sin(ang),hx-8*Math.cos(ang)-13*px,hy-8*Math.sin(ang)-13*py].join(" "),fill:"#000"},g);

  // inset
  const n=p.inset;
  const ig=mk("g",{},g);
  
  const ixs=v=>n.L+(v-n.x0)/(n.x1-n.x0)*(n.R-n.L);
  const iys=v=>n.T+(n.y0-v)/(n.y0-n.y1)*(n.B-n.T);
  mk("rect",{x:n.L,y:n.T,width:n.R-n.L,height:n.B-n.T,fill:"#fff"},ig);
  const icp=mk("clipPath",{id:"iclip"+p.id},defs);
  mk("rect",{x:n.L,y:n.T,width:n.R-n.L,height:n.B-n.T},icp);
  n.xt.forEach(t=>{
    mk("line",{x1:ixs(t),x2:ixs(t),y1:n.T,y2:n.B,stroke:"#e3e3e3","stroke-width":2},ig);
    mk("line",{x1:ixs(t),x2:ixs(t),y1:n.B,y2:n.B-7,stroke:"#262626","stroke-width":2},ig);
    const tx=mk("text",{x:ixs(t),y:n.B+46,"font-size":31,"text-anchor":"middle",fill:"#333"},ig);
    tx.textContent=String(t);
    
  });
  n.yt.forEach(t=>{
    mk("line",{x1:n.L,x2:n.R,y1:iys(t),y2:iys(t),stroke:"#e3e3e3","stroke-width":2},ig);
    mk("line",{x1:n.L,x2:n.L+7,y1:iys(t),y2:iys(t),stroke:"#262626","stroke-width":2},ig);
    const ty=mk("text",{x:n.L-6,y:iys(t)+11,"font-size":31,"text-anchor":"end",fill:"#333"},ig);
    ty.textContent=fmt(t);
    
  });
  drawLines(ig,ixs,iys,p.data,"iclip"+p.id,4,7);
  mk("rect",{x:n.L,y:n.T,width:n.R-n.L,height:n.B-n.T,fill:"none",stroke:"#262626","stroke-width":2.5},ig);
});

// legend (f)
const lg=mk("g",{});


const lt=mk("text",{x:3413,y:1188,"font-size":50,"font-weight":"bold","text-anchor":"middle",fill:"#000"},lg);
lt.textContent="(f)";


mk("rect",{x:3201,y:1209,width:424,height:867,fill:"#fff",stroke:"#262626","stroke-width":2.5},lg);
const legendY=[1271,1376,1483,1589,1694,1802,1907,2012];
seriesNames.forEach((nm,i)=>{
  const eg=mk("g",{},lg);
  
  
  mk("line",{x1:3285,x2:3404,y1:legendY[i],y2:legendY[i],stroke:colors[i],"stroke-width":6},eg);
  if(i===0) mk("circle",{cx:3344,cy:legendY[i],r:9,fill:colors[0]},eg);
  const t=mk("text",{x:3413,y:legendY[i]+16,"font-size":44,fill:"#000"},eg);
  t.textContent=nm;
});
</script>
</body></html>
